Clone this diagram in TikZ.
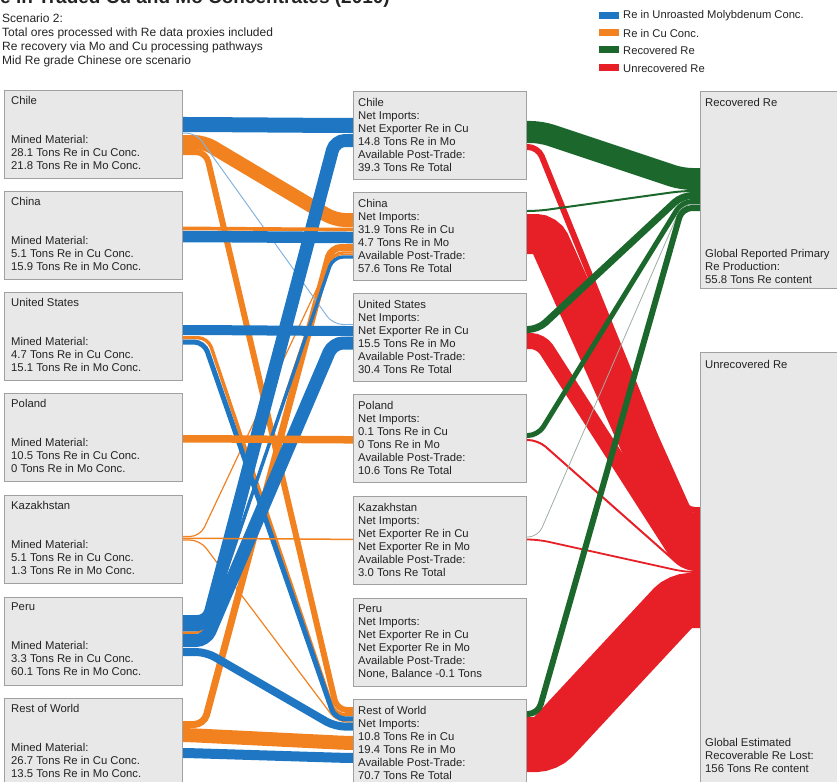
\documentclass[tikz,border=0pt]{standalone}
\usepackage{fontspec}
\setmainfont{Liberation Sans}
\usetikzlibrary{calc}

\definecolor{moblue}{RGB}{31,119,195}
\definecolor{cuorange}{RGB}{242,129,32}
\definecolor{recgreen}{RGB}{28,104,44}
\definecolor{unred}{RGB}{230,32,38}
\definecolor{boxfill}{RGB}{232,232,232}
\definecolor{boxline}{RGB}{160,160,160}
\definecolor{inkgray}{RGB}{35,35,35}

\pgfdeclarelayer{flows}
\pgfsetlayers{flows,main}

% band from a source box (east side) to a target box (west side)
% #1 style, #2 width, #3 source, #4 offset below source top,
% #5 target, #6 offset below target top, #7/#8 horizontal run at each end
\newcommand\sflow[8]{%
  \draw[#1=#2] ([yshift=-#4]#3.north east)
    -- ([xshift=#7,yshift=-#4]#3.north east)
    -- ([xshift=-#8,yshift=-#6]#5.north west)
    -- ([yshift=-#6]#5.north west);}

\begin{document}
\begin{tikzpicture}[x=1pt,y=-1pt,
  box/.style={draw=boxline, fill=boxfill, line width=0.9pt, rectangle,
    anchor=north west, inner sep=0pt, outer sep=0pt},
  lbox/.style={box, minimum width=178pt, minimum height=88pt},
  mbox/.style={box, minimum width=173pt, minimum height=88pt},
  txt/.style={anchor=north west, inner sep=0pt, align=left, text=inkgray,
    font=\fontsize{11.3}{13}\selectfont},
  band/.style={line width=#1, rounded corners=10pt, line cap=butt},
  mo/.style={band=#1, draw=moblue},
  mothin/.style={band=#1, draw=moblue!55},
  cu/.style={band=#1, draw=cuorange},
  rec/.style={band=#1, draw=recgreen},
  recthin/.style={band=#1, draw=recgreen!35!gray!60},
  unrec/.style={band=#1, draw=unred},
  swatch/.style={minimum width=20pt, minimum height=7pt, inner sep=0pt, anchor=west},
  legtxt/.style={anchor=west, inner sep=0pt, text=inkgray, font=\fontsize{11.2}{13}\selectfont}
]
\useasboundingbox (0,0) rectangle (837,781);
\clip (0,0) rectangle (837,781);

% heading
\node[anchor=base east, inner sep=0pt, text=inkgray, font=\fontsize{19}{23}\selectfont\bfseries]
  (title) at (390,4) {Re in Traded Cu and Mo Concentrates (2010)};
\node[txt, font=\fontsize{12}{14}\selectfont] (scen) at (2,14)
  {Scenario 2:\\Total ores processed with Re data proxies included\\
   Re recovery via Mo and Cu processing pathways\\Mid Re grade Chinese ore scenario};

% legend
\node[swatch, fill=moblue]   (lg1) at (599,16) {};
\node[swatch, fill=cuorange] (lg2) at (599,33) {};
\node[swatch, fill=recgreen] (lg3) at (599,50) {};
\node[swatch, fill=unred]    (lg4) at (599,68) {};
\node[legtxt] (lt1) at (623,16) {Re in Unroasted Molybdenum Conc.};
\node[legtxt] (lt2) at (623,33) {Re in Cu Conc.};
\node[legtxt] (lt3) at (623,50) {Recovered Re};
\node[legtxt] (lt4) at (623,68) {Unrecovered Re};

% mined material
\node[lbox] (chL) at (4,90)  {};
\node[lbox] (cnL) at (4,191) {};
\node[lbox] (usL) at (4,292) {};
\node[lbox] (plL) at (4,393) {};
\node[lbox] (kzL) at (4,495) {};
\node[lbox] (peL) at (4,597) {};
\node[lbox] (rwL) at (4,698) {};

% post-trade balances
\node[mbox] (chM) at (353,91)  {};
\node[mbox] (cnM) at (353,192) {};
\node[mbox] (usM) at (353,293) {};
\node[mbox] (plM) at (353,394) {};
\node[mbox] (kzM) at (353,496) {};
\node[mbox] (peM) at (353,598) {};
\node[mbox] (rwM) at (353,699) {};

% end points
\node[box, minimum width=150pt, minimum height=197pt] (recB) at (700,91) {};
\node[box, minimum width=150pt, minimum height=450pt] (unB) at (700,352) {};

% texts of the mined-material boxes
\foreach \b/\n/\cu/\mo in {chL/Chile/28.1/21.8, cnL/China/5.1/15.9,
    usL/United States/4.7/15.1, plL/Poland/10.5/0, kzL/Kazakhstan/5.1/1.3,
    peL/Peru/3.3/60.1, rwL/Rest of World/26.7/13.5}
  \node[txt] (\b-t) at ([xshift=7,yshift=-6]\b.north west)
    {\n\\[26pt]Mined Material:\\\cu{} Tons Re in Cu Conc.\\\mo{} Tons Re in Mo Conc.};

% texts of the post-trade boxes
\node[txt] (chM-t) at ([xshift=5,yshift=-7]chM.north west)
  {Chile\\Net Imports:\\Net Exporter Re in Cu\\14.8 Tons Re in Mo\\Available Post-Trade:\\39.3 Tons Re Total};
\node[txt] (cnM-t) at ([xshift=5,yshift=-7]cnM.north west)
  {China\\Net Imports:\\31.9 Tons Re in Cu\\4.7 Tons Re in Mo\\Available Post-Trade:\\57.6 Tons Re Total};
\node[txt] (usM-t) at ([xshift=5,yshift=-7]usM.north west)
  {United States\\Net Imports:\\Net Exporter Re in Cu\\15.5 Tons Re in Mo\\Available Post-Trade:\\30.4 Tons Re Total};
\node[txt] (plM-t) at ([xshift=5,yshift=-7]plM.north west)
  {Poland\\Net Imports:\\0.1 Tons Re in Cu\\0 Tons Re in Mo\\Available Post-Trade:\\10.6 Tons Re Total};
\node[txt] (kzM-t) at ([xshift=5,yshift=-7]kzM.north west)
  {Kazakhstan\\Net Imports:\\Net Exporter Re in Cu\\Net Exporter Re in Mo\\Available Post-Trade:\\3.0 Tons Re Total};
\node[txt] (peM-t) at ([xshift=5,yshift=-7]peM.north west)
  {Peru\\Net Imports:\\Net Exporter Re in Cu\\Net Exporter Re in Mo\\Available Post-Trade:\\None, Balance -0.1 Tons};
\node[txt] (rwM-t) at ([xshift=5,yshift=-7]rwM.north west)
  {Rest of World\\Net Imports:\\10.8 Tons Re in Cu\\19.4 Tons Re in Mo\\Available Post-Trade:\\70.7 Tons Re Total};

% texts of the end boxes
\node[txt] (recB-t) at ([xshift=5,yshift=-7]recB.north west) {Recovered Re};
\node[txt, anchor=south west] (recB-b) at (705,284)
  {Global Reported Primary\\Re Production:\\55.8 Tons Re content};
\node[txt] (unB-t) at ([xshift=5,yshift=-8]unB.north west) {Unrecovered Re};
\node[txt, anchor=south west] (unB-b) at (705,773)
  {Global Estimated\\Recoverable Re Lost:\\156 Tons Re content};

\begin{pgfonlayer}{flows}
% concentrates leaving the mines
\sflow{cu}{14}{chL}{52}{cnM}{28}{22}{18}
\sflow{cu}{6}{chL}{62}{rwM}{11}{24}{16}
\sflow{cu}{7}{rwL}{26.5}{cnM}{55.5}{22}{22}
\sflow{cu}{2.4}{peL}{35.6}{cnM}{60.5}{24}{20}
\sflow{cu}{1.2}{kzL}{41.5}{cnM}{62.5}{18}{20}
\sflow{cu}{3.4}{usL}{45.7}{rwM}{15.7}{26}{18}
\sflow{cu}{1.2}{kzL}{45}{rwM}{23}{18}{16}
\sflow{mo}{15}{chL}{34.5}{chM}{34.5}{15}{15}
\sflow{mothin}{1}{chL}{43}{usM}{31.5}{14}{20}
\sflow{mo}{3.4}{peL}{32.7}{cnM}{65}{24}{20}
\sflow{mo}{13}{peL}{24.5}{chM}{49.5}{26}{18}
\sflow{mo}{13}{peL}{43.5}{usM}{50}{24}{20}
\sflow{mo}{8}{peL}{55}{rwM}{27.6}{24}{18}
\sflow{mo}{5}{usL}{50}{rwM}{19.9}{22}{18}
\sflow{mo}{10}{usL}{38}{usM}{38}{15}{15}
\sflow{cu}{3.7}{cnL}{37.5}{cnM}{37.5}{15}{15}
\sflow{mo}{11.5}{cnL}{45.5}{cnM}{45.5}{15}{15}
\sflow{cu}{7.5}{plL}{45.75}{plM}{45.75}{15}{15}
\sflow{cu}{1.5}{kzL}{43.3}{kzM}{43.3}{15}{15}
\sflow{cu}{14}{rwL}{37}{rwM}{44}{5}{5}
\sflow{mo}{10}{rwL}{55}{rwM}{59}{5}{5}

% recovered and unrecovered rhenium
\sflow{unrec}{6}{chM}{56}{unB}{158}{12}{15}
\sflow{unrec}{40}{cnM}{42}{unB}{181}{20}{20}
\sflow{unrec}{16}{usM}{48}{unB}{209}{15}{18}
\sflow{unrec}{2}{plM}{46}{unB}{218}{12}{15}
\sflow{unrec}{1.8}{kzM}{43.5}{unB}{220}{12}{15}
\sflow{unrec}{55}{rwM}{45.5}{unB}{248.5}{20}{20}
\sflow{rec}{22}{chM}{41}{recB}{88}{15}{18}
\sflow{rec}{2}{cnM}{19}{recB}{100}{12}{18}
\sflow{rec}{7}{usM}{36.5}{recB}{104.5}{12}{18}
\sflow{rec}{5}{plM}{41.5}{recB}{110.5}{12}{18}
\sflow{recthin}{0.8}{kzM}{41}{recB}{113.4}{12}{18}
\sflow{rec}{6}{rwM}{15}{recB}{117}{12}{18}
\end{pgfonlayer}
\end{tikzpicture}
\end{document}
